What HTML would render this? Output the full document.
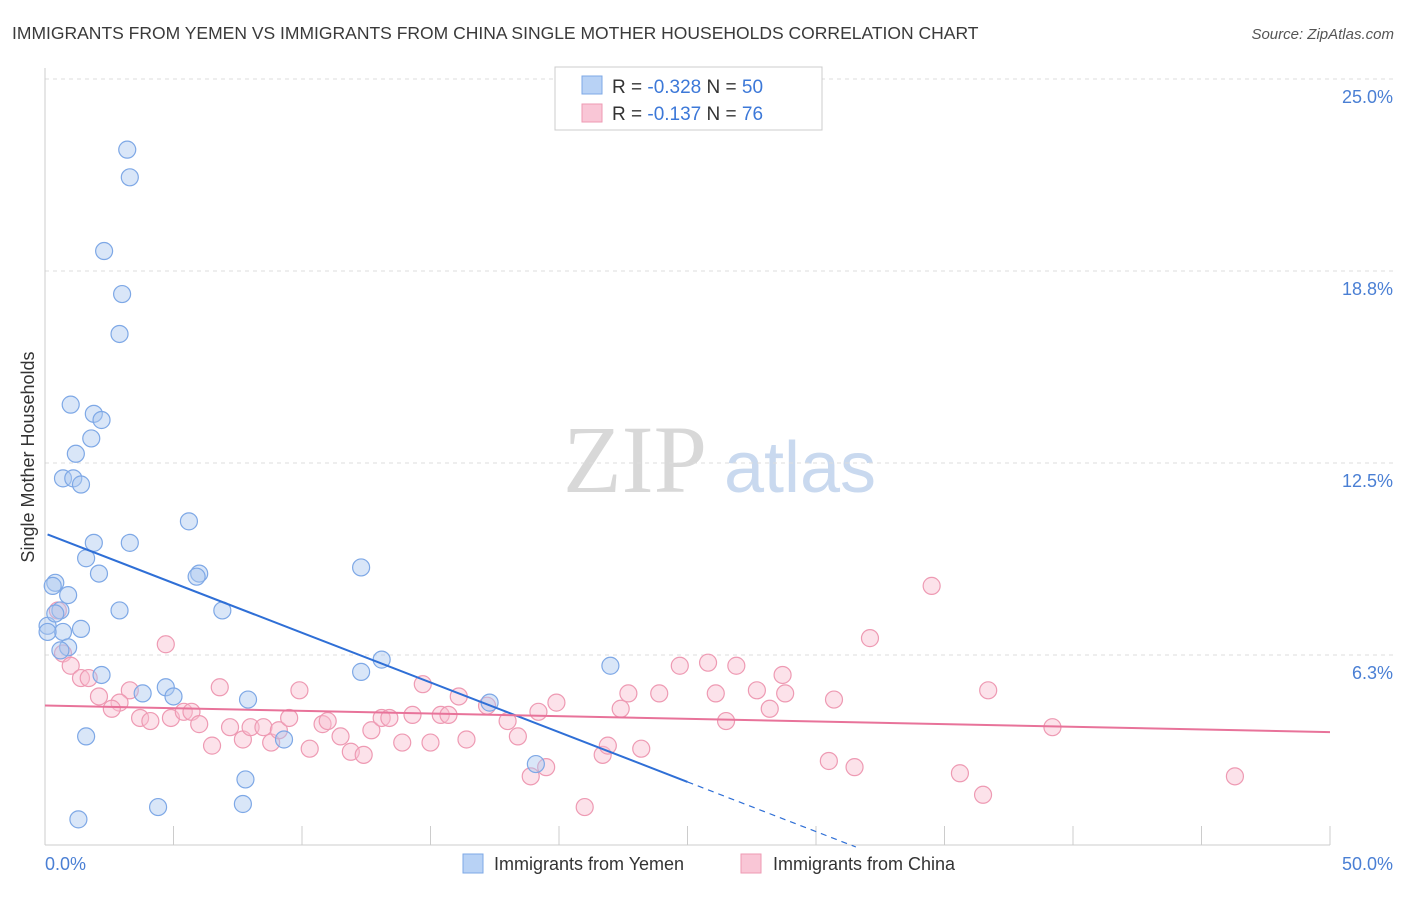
<!DOCTYPE html>
<html><head><meta charset="utf-8"><style>
body{margin:0;background:#fff;font-family:"Liberation Sans",sans-serif}
</style></head><body>
<svg width="1406" height="892" xmlns="http://www.w3.org/2000/svg" id="svg">
<text x="12" y="39" font-size="17.5" fill="#3a3a3a">IMMIGRANTS FROM YEMEN VS IMMIGRANTS FROM CHINA SINGLE MOTHER HOUSEHOLDS CORRELATION CHART</text>
<text x="1394" y="39" font-size="15" fill="#555" font-style="italic" text-anchor="end">Source: ZipAtlas.com</text>
<text x="635" y="492" font-size="96" fill="#d8d8d8" font-family="Liberation Serif" text-anchor="middle">ZIP</text>
<text x="800" y="492" font-size="72" fill="#c9d9ef" text-anchor="middle">atlas</text>
<g id="grid"></g>
<line x1="45" y1="68" x2="45" y2="845" stroke="#ccc"/>
<line x1="45" y1="845" x2="1330" y2="845" stroke="#ccc"/>
<text x="34" y="457" font-size="18" fill="#333" text-anchor="middle" transform="rotate(-90 34 457)">Single Mother Households</text>
<text x="45" y="870" font-size="18" fill="#4a7fd4">0.0%</text>
<text x="1393" y="870" font-size="18" fill="#4a7fd4" text-anchor="end">50.0%</text>
<g id="marks"></g>
<g>
<rect x="555" y="67" width="267" height="63" fill="#fff" stroke="#ccc"/>
<rect x="582" y="76" width="20" height="18" fill="#b8d2f5" stroke="#7ea8e6"/>
<rect x="582" y="104" width="20" height="18" fill="#f9c6d6" stroke="#ee9ab3"/>
<text x="612" y="93" font-size="19" fill="#333">R = <tspan fill="#3c78d8">-0.328</tspan>   N = <tspan fill="#3c78d8">50</tspan></text>
<text x="612" y="120" font-size="19" fill="#333">R =  <tspan fill="#3c78d8">-0.137</tspan>   N =  <tspan fill="#3c78d8">76</tspan></text>
</g>
<g>
<rect x="463" y="854" width="20" height="19" fill="#b8d2f5" stroke="#7ea8e6"/>
<text x="494" y="870" font-size="18" fill="#333">Immigrants from Yemen</text>
<rect x="741" y="854" width="20" height="19" fill="#f9c6d6" stroke="#ee9ab3"/>
<text x="773" y="870" font-size="18" fill="#333">Immigrants from China</text>
</g>
</svg>
<script>
const yTicks=[25,18.75,12.5,6.25];
const yTickLabels=["25.0%","18.8%","12.5%","6.3%"];
const xTicks=[0,5,10,15,20,25,30,35,40,45,50];
const yemenX=[3.2,3.3,2.3,3.0,2.9,1.0,1.9,2.2,1.8,1.2,0.7,1.1,1.4,5.6,1.9,3.3,1.6,2.1,6.0,5.9,12.3,0.4,0.3,0.9,2.9,6.9,0.6,0.1,1.4,0.7,0.9,0.6,13.1,12.3,2.2,22.0,4.7,3.8,5.0,7.9,17.3,1.6,9.3,19.1,7.8,4.4,7.7,1.3,0.1,0.4];
const yemenY=[22.7,21.8,19.4,18.0,16.7,14.4,14.1,13.9,13.3,12.8,12.0,12.0,11.8,10.6,9.9,9.9,9.4,8.9,8.9,8.8,9.1,8.6,8.5,8.2,7.7,7.7,7.7,7.2,7.1,7.0,6.5,6.4,6.1,5.7,5.6,5.9,5.2,5.0,4.9,4.8,4.7,3.6,3.5,2.7,2.2,1.3,1.4,0.9,7.0,7.6];
const chinaX=[0.5,4.7,0.7,1.0,1.4,1.7,2.1,3.3,2.9,2.6,3.7,4.1,4.9,5.4,5.7,6.8,6.0,6.5,7.2,7.7,8.0,8.5,8.8,9.1,9.5,9.9,10.3,10.8,11.0,11.5,11.9,12.4,12.7,13.1,13.4,13.9,14.3,14.7,15.0,15.4,15.7,16.1,16.4,17.2,18.0,18.4,18.9,19.2,19.5,19.9,21.0,21.7,21.9,22.4,22.7,23.2,23.9,24.7,25.8,26.1,26.5,26.9,27.7,28.2,28.7,28.8,30.5,30.7,31.5,32.1,34.5,35.6,36.5,36.7,39.2,46.3];
const chinaY=[7.7,6.6,6.3,5.9,5.5,5.5,4.9,5.1,4.7,4.5,4.2,4.1,4.2,4.4,4.4,5.2,4.0,3.3,3.9,3.5,3.9,3.9,3.4,3.8,4.2,5.1,3.2,4.0,4.1,3.6,3.1,3.0,3.8,4.2,4.2,3.4,4.3,5.3,3.4,4.3,4.3,4.9,3.5,4.6,4.1,3.6,2.3,4.4,2.6,4.7,1.3,3.0,3.3,4.5,5.0,3.2,5.0,5.9,6.0,5.0,4.1,5.9,5.1,4.5,5.6,5.0,2.8,4.8,2.6,6.8,8.5,2.4,1.7,5.1,3.9,2.3];
const X=v=>45+v/50*1285, Y=v=>847-v*30.72;
const NS="http://www.w3.org/2000/svg";
const grid=document.getElementById('grid'), marks=document.getElementById('marks');
function mk(t,a,p){const e=document.createElementNS(NS,t);for(const k in a)e.setAttribute(k,a[k]);p.appendChild(e);return e;}
yTicks.forEach((v,i)=>{
 const l=mk('line',{x1:45,x2:1394,y1:Y(v),y2:Y(v),stroke:'#ddd','stroke-dasharray':'4,4'},grid);
 
 
 const t=mk('text',{x:1393,y:Y(v)+24,'font-size':18,fill:'#4a7fd4','text-anchor':'end'},grid);
 t.textContent=yTickLabels[i];
 
 
});
xTicks.forEach(v=>{
 const l=mk('line',{x1:X(v),x2:X(v),y1:826,y2:845,stroke:'#ccc'},grid);
 
 
});
function fit(xs,ys){const n=xs.length;let mx=0,my=0;for(let i=0;i<n;i++){mx+=xs[i];my+=ys[i];}mx/=n;my/=n;let a=0,b=0;for(let i=0;i<n;i++){a+=(xs[i]-mx)*(ys[i]-my);b+=(xs[i]-mx)**2;}const s=a/b;return [s,my-s*mx];}
chinaX.forEach((v,i)=>{
 const c=mk('circle',{cx:X(v),cy:Y(chinaY[i]),r:8.5,fill:'rgba(248,190,208,0.45)',stroke:'#ee9ab3','stroke-width':1.2},marks);
 
 
});
yemenX.forEach((v,i)=>{
 const c=mk('circle',{cx:X(v),cy:Y(yemenY[i]),r:8.5,fill:'rgba(170,200,240,0.45)',stroke:'#7ea8e6','stroke-width':1.2},marks);
 
 
});
const [sb,ib]=fit(yemenX,yemenY);
const bl=mk('line',{x1:X(0.1),y1:Y(ib+sb*0.1),x2:X(25),y2:Y(ib+sb*25),stroke:'#2f6fd6','stroke-width':2},marks);


const xe=Math.min(50,-ib/sb);
const bd=mk('line',{x1:X(25),y1:Y(ib+sb*25),x2:X(xe),y2:Y(ib+sb*xe),stroke:'#2f6fd6','stroke-width':1.2,'stroke-dasharray':'6,5'},marks);


const [sp,ip]=fit(chinaX,chinaY);
const pl=mk('line',{x1:X(0),y1:Y(ip),x2:X(50),y2:Y(ip+sp*50),stroke:'#e8739a','stroke-width':2},marks);


</script>
</body></html>
